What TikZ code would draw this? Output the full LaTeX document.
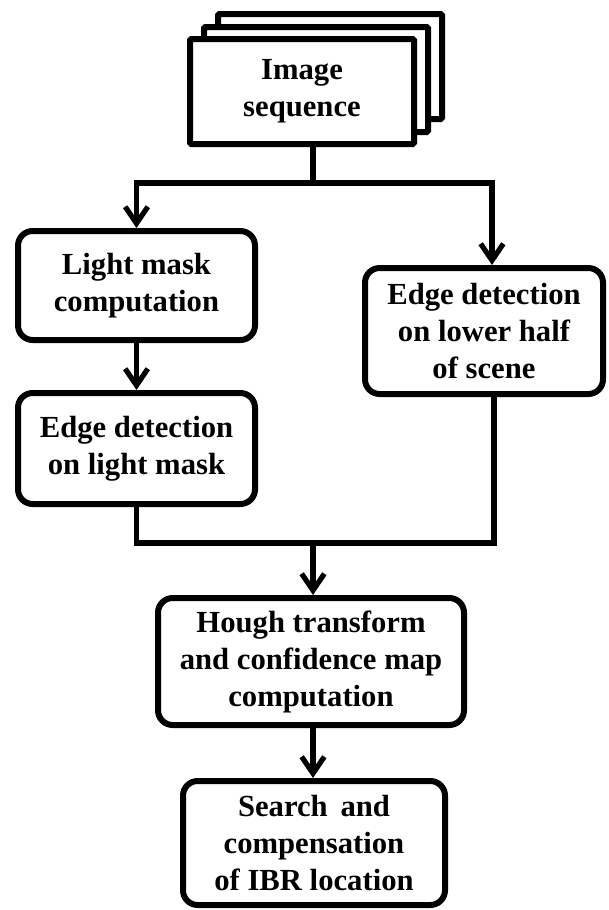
\documentclass[tikz,border=0pt]{standalone}
\usepackage{fontspec}
\setmainfont{Liberation Serif}
\usetikzlibrary{arrows.meta}

\begin{document}
\begin{tikzpicture}[x=0.75pt,y=-0.75pt,
  every node/.style={font=\bfseries\fontsize{23pt}{27.75pt}\selectfont, align=center, inner sep=0pt},
  procbox/.style={draw, line width=4.5pt, rounded corners=11pt, fill=white},
  sheet/.style={draw, line width=4.5pt, rounded corners=1pt, fill=white,
                minimum width=168pt, minimum height=78.75pt},
  link/.style={line width=3.9pt},
  arr/.style={link, -{Straight Barb[length=12.5pt,width=17pt,line width=3.9pt]}}]

\useasboundingbox (0,0) rectangle (608,910);

% stacked sheets for the image sequence
\node[sheet] (back) at (330,66.5) {};
\node[sheet] (mid) at (316,79.5) {};
\node[sheet] (img) at (302,91.5) {Image\\sequence};

% processing steps
\node[procbox, minimum width=177.75pt, minimum height=81.75pt] (light) at (136.5,285.5) {Light mask\\computation};
\node[procbox, minimum width=177.75pt, minimum height=83.25pt] (edgel) at (136.5,448.5) {Edge detection\\on light mask};
\node[procbox, minimum width=178.5pt, minimum height=94.5pt] (edger) at (484,331) {Edge detection\\on lower half\\of scene};
\node[procbox, minimum width=229.5pt, minimum height=95.25pt] (hough) at (311,661.5) {Hough transform\\and confidence map\\computation};
\node[procbox, minimum width=196.5pt, minimum height=93pt] (search) at (314,843) {Search\, and\\compensation\\of IBR location};

% split and merge points
\coordinate (split) at (313,183);
\coordinate (merge) at (313,543);

% connectors
\draw[link] (img.south -| split) -- (split);
\draw[arr] (split) -| (light.north);
\draw[arr] (split) -| ([xshift=6pt]edger.north);
\draw[arr] (light.south) -- (edgel.north);
\draw[link] (edgel.south) |- (merge);
\draw[link] ([xshift=7.5pt]edger.south) |- (merge);
\draw[arr] (merge) -- (merge |- hough.north);
\draw[arr] (hough.south -| merge) -- (merge |- search.north);

\end{tikzpicture}
\end{document}
